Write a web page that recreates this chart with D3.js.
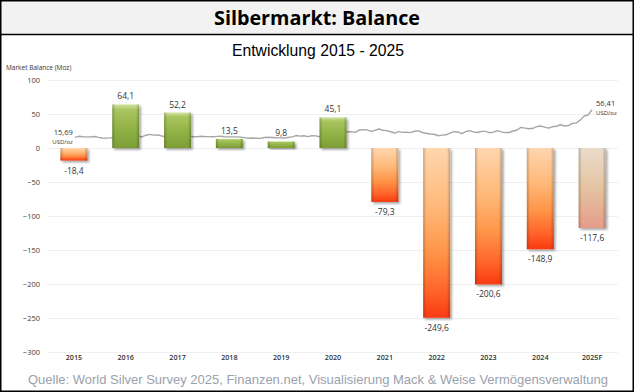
<!DOCTYPE html>
<html><head><meta charset="utf-8">
<script src="https://cdn.jsdelivr.net/npm/d3@7"></script>
<style>
html,body{margin:0;padding:0;background:#fff;}
svg{display:block;}
</style></head>
<body>
<svg id="chart" width="634" height="392"></svg>
<script>
// ---- Data ----
const categories = ["2015","2016","2017","2018","2019","2020","2021","2022","2023","2024","2025F"];
const balance = [-18.4, 64.1, 52.2, 13.5, 9.8, 45.1, -79.3, -249.6, -200.6, -148.9, -117.6];
const balanceLabels = ["-18,4","64,1","52,2","13,5","9,8","45,1","-79,3","-249,6","-200,6","-148,9","-117,6"];
const yTicks = [100, 50, 0, -50, -100, -150, -200, -250, -300];
// Silver price (USD/oz), monthly Jan 2015 .. Nov 2025, plus latest quote
const silverPrice = [
  15.69,17.2,16.6,16.4,16.3,16.9,15.6,14.7,14.5,14.9,15.5,14.2,
  13.9,14.3,15.4,15.6,17.6,16.2,18.8,20.1,19.0,19.3,17.6,16.6,
  16.1,17.1,18.1,18.2,16.6,17.5,16.6,16.8,17.3,16.8,16.8,16.5,
  17.1,17.2,16.5,16.3,16.4,16.3,16.0,15.3,14.4,14.7,14.4,14.2,
  15.5,15.9,15.5,15.1,14.9,14.6,15.4,16.3,18.3,17.4,18.0,16.8,
  18.0,17.9,16.6,12.4,15.3,17.7,18.3,24.3,28.3,23.6,24.0,22.9,
  26.4,27.0,26.6,24.5,25.9,27.9,26.0,25.5,23.9,22.0,24.0,23.0,
  23.1,22.6,24.6,25.2,22.8,21.6,20.6,20.2,18.0,18.9,19.4,21.9,
  24.0,23.6,21.0,24.2,25.5,23.6,22.8,24.5,24.4,22.5,23.3,25.5,
  23.8,22.7,22.8,25.0,26.4,30.4,29.3,28.3,29.0,31.5,32.4,30.8,
  29.2,31.3,32.0,34.2,32.4,33.0,36.1,37.0,41.0,47.0,48.5,56.41
];
const priceStartLabel = "15,69";
const priceEndLabel = "56,41";
const priceUnit = "USD/oz";

const title = "Silbermarkt: Balance";
const subtitle = "Entwicklung 2015 - 2025";
const yTitle = "Market Balance (Moz)";
const source = "Quelle: World Silver Survey 2025, Finanzen.net, Visualisierung Mack & Weise Vermögensverwaltung";

// ---- Chart ----
const W = 634, H = 392;
const svg = d3.select("#chart");
const defs = svg.append("defs");

// gradients
const gGreen = defs.append("linearGradient").attr("id","gGreen").attr("x1",0).attr("y1",0).attr("x2",0).attr("y2",1);
[[0,"#d3e4a4"],[0.12,"#a9c660"],[0.5,"#93b447"],[1,"#7d9e36"]].forEach(s=>gGreen.append("stop").attr("offset",s[0]).attr("stop-color",s[1]));
const gRed = defs.append("linearGradient").attr("id","gRed").attr("x1",0).attr("y1",0).attr("x2",0).attr("y2",1);
[[0,"#ffd6ae"],[0.35,"#ffb878"],[0.62,"#ff9448"],[0.85,"#ff6228"],[1,"#f83a12"]].forEach(s=>gRed.append("stop").attr("offset",s[0]).attr("stop-color",s[1]));
const gFc = defs.append("linearGradient").attr("id","gFc").attr("x1",0).attr("y1",0).attr("x2",0).attr("y2",1);
[[0,"#ebdccb"],[0.5,"#e5c3a2"],[1,"#e69c8a"]].forEach(s=>gFc.append("stop").attr("offset",s[0]).attr("stop-color",s[1]));
const gEdge = defs.append("linearGradient").attr("id","gEdge").attr("x1",0).attr("y1",0).attr("x2",1).attr("y2",0);
[[0,"#000",0.22],[0.12,"#000",0.0],[0.88,"#000",0.0],[1,"#000",0.22]].forEach(s=>gEdge.append("stop").attr("offset",s[0]).attr("stop-color",s[1]).attr("stop-opacity",s[2]));
const f = defs.append("filter").attr("id","shadow").attr("x","-20%").attr("y","-20%").attr("width","150%").attr("height","150%");
f.append("feDropShadow").attr("dx",1.8).attr("dy",1.8).attr("stdDeviation",1.1).attr("flood-color","#000").attr("flood-opacity",0.35);

// frame + title band
svg.append("rect").attr("x",0.75).attr("y",0.75).attr("width",W-1.5).attr("height",34).attr("fill","#f2f2f2");
svg.append("line").attr("x1",0).attr("x2",W).attr("y1",34.5).attr("y2",34.5).attr("stroke","#000").attr("stroke-width",1.5);
svg.append("rect").attr("x",0.75).attr("y",0.75).attr("width",W-1.5).attr("height",H-1.5).attr("fill","none").attr("stroke","#000").attr("stroke-width",1.5);

svg.append("text").attr("x",317).attr("y",25).attr("text-anchor","middle")
  .attr("font-family","'Open Sans', 'Noto Sans', sans-serif").attr("font-weight",700).attr("font-size",20)
  .attr("textLength",206).attr("lengthAdjust","spacingAndGlyphs").attr("fill","#000").text(title);
svg.append("text").attr("x",318).attr("y",56).attr("text-anchor","middle")
  .attr("font-family","'Liberation Sans', Arial, sans-serif").attr("font-size",16)
  .attr("textLength",172).attr("lengthAdjust","spacingAndGlyphs").attr("fill","#000").text(subtitle);
svg.append("text").attr("x",6).attr("y",70).attr("font-family","'Open Sans', sans-serif").attr("font-size",6.5)
  .attr("fill","#333").text(yTitle);
svg.append("text").attr("x",318).attr("y",384).attr("text-anchor","middle")
  .attr("font-family","'Liberation Sans', Arial, sans-serif").attr("font-size",13.5)
  .attr("textLength",580).attr("lengthAdjust","spacingAndGlyphs").attr("fill","#9aa2ad").text(source);

// scales
const x = d3.scaleBand().domain(categories).range([48,618]).paddingInner(0.48).paddingOuter(0.24);
const y = d3.scaleLinear().domain([-300,100]).range([352,80]);

// grid
svg.append("g").selectAll("line").data(yTicks).join("line")
  .attr("x1",48).attr("x2",618).attr("y1",d=>Math.round(y(d))+0.5).attr("y2",d=>Math.round(y(d))+0.5)
  .attr("stroke","#efefef").attr("stroke-width",1);

// y axis labels
const yAxis = d3.axisLeft(y).tickValues(yTicks).tickSize(0).tickPadding(0);
const ya = svg.append("g").attr("transform","translate(40,0)").call(yAxis);
ya.select(".domain").remove();
ya.selectAll("text").attr("font-family","'Open Sans', sans-serif").attr("font-size",7.5).attr("fill","#404040");

// x axis labels
const xAxis = d3.axisBottom(x).tickSize(0).tickPadding(0);
const xa = svg.append("g").attr("transform","translate(0,355)").call(xAxis);
xa.select(".domain").remove();
xa.selectAll("text").attr("font-family","'Open Sans', sans-serif").attr("font-size",7.2).attr("font-weight",600).attr("fill","#333");

// price line (behind bars)
const px = d3.scaleLinear().domain([0, silverPrice.length-1]).range([x("2015")+x.bandwidth()/2+1, x("2025F")+x.bandwidth()/2]);
const line = d3.line().x((d,i)=>px(i)).y(d=>y(d));
svg.append("path").datum(silverPrice).attr("d",line).attr("fill","none").attr("stroke","#a6a6a6").attr("stroke-width",1.4).attr("stroke-linejoin","round");

// bars
const data = categories.map((c,i)=>({c, v:balance[i], lab:balanceLabels[i]}));
const bars = svg.append("g");
bars.selectAll("g.bar").data(data).join("g").attr("class","bar").each(function(d){
  const g = d3.select(this);
  const top = y(Math.max(0,d.v)), bot = y(Math.min(0,d.v));
  const fill = d.v>=0 ? "url(#gGreen)" : (d.c==="2025F" ? "url(#gFc)" : "url(#gRed)");
  g.append("rect").attr("x",x(d.c)).attr("y",top).attr("width",x.bandwidth()).attr("height",bot-top)
    .attr("fill",fill).attr("filter","url(#shadow)");
  g.append("rect").attr("x",x(d.c)).attr("y",top).attr("width",x.bandwidth()).attr("height",bot-top)
    .attr("fill","url(#gEdge)");
});

// price labels
const lblFont = "'Open Sans', sans-serif";
const sx = px(0), sy = y(silverPrice[0]);
svg.append("text").attr("x",sx-2).attr("y",sy-2).attr("text-anchor","end").attr("font-family",lblFont).attr("font-size",7.5).attr("fill","#333").text(priceStartLabel);
svg.append("text").attr("x",sx-2).attr("y",sy+7).attr("text-anchor","end").attr("font-family",lblFont).attr("font-size",6).attr("fill","#333").text(priceUnit);
const ex = px(silverPrice.length-1), ey = y(silverPrice[silverPrice.length-1]);
svg.append("text").attr("x",ex+4).attr("y",ey-4).attr("font-family",lblFont).attr("font-size",7.5).attr("fill","#333").text(priceEndLabel);
svg.append("text").attr("x",ex+4).attr("y",ey+5).attr("font-family",lblFont).attr("font-size",6).attr("fill","#333").text(priceUnit);

// value labels
svg.append("g").selectAll("text").data(data).join("text")
  .attr("x",d=>x(d.c)+x.bandwidth()/2)
  .attr("y",d=>d.v>=0 ? y(d.v)-5 : y(d.v)+13)
  .attr("text-anchor","middle").attr("font-family",lblFont).attr("font-size",8.5).attr("fill","#333")
  .text(d=>d.lab);
</script>
</body></html>
